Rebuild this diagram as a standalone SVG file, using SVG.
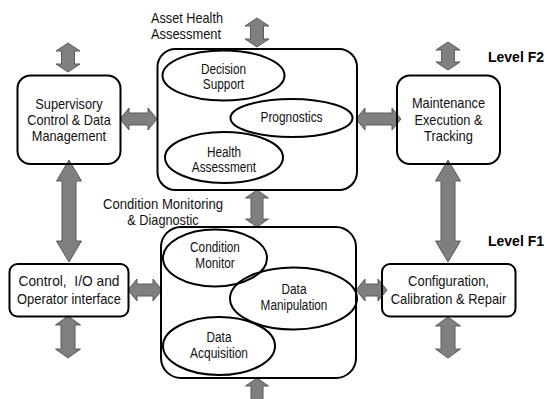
<svg xmlns="http://www.w3.org/2000/svg" width="547" height="399" viewBox="0 0 547 399">
<style>
.bg{fill:#ffffff}
.box{fill:none;stroke:#000;stroke-width:2}
.ell{fill:none;stroke:#000;stroke-width:2}
.arr{fill:#7f7f7f;stroke:#5a5a5a;stroke-width:1;stroke-linejoin:miter}
text{font-family:"Liberation Sans",Arial,sans-serif;fill:#111;text-anchor:middle}
.t15{font-size:15px}
.t14{font-size:14px}
.lbl{font-size:15px;text-anchor:start}
.lvl{font-size:14px;font-weight:bold;text-anchor:start;fill:#000}
</style>
<rect class="bg" x="0" y="0" width="547" height="399"/>
<g id="connectors">
<path class="arr" d="M68 43 L80 51 L74.5 51 L74.5 64 L80 64 L68 72 L56 64 L61.5 64 L61.5 51 L56 51 Z"/>
<path class="arr" d="M257 18 L269 26 L263.5 26 L263.5 39 L269 39 L257 47 L245 39 L250.5 39 L250.5 26 L245 26 Z"/>
<path class="arr" d="M448 42 L460 50 L454.5 50 L454.5 62 L460 62 L448 70 L436 62 L441.5 62 L441.5 50 L436 50 Z"/>
<path class="arr" d="M120 119 L129 108 L129 113 L148 113 L148 108 L157 119 L148 130 L148 125 L129 125 L129 130 Z"/>
<path class="arr" d="M356 119 L365 108 L365 113 L392 113 L392 108 L401 119 L392 130 L392 125 L365 125 L365 130 Z"/>
<path class="arr" d="M69 160 L81.5 181 L76 181 L76 241 L81.5 241 L69 262 L56.5 241 L62 241 L62 181 L56.5 181 Z"/>
<path class="arr" d="M448 160 L460.5 181 L455 181 L455 241 L460.5 241 L448 262 L435.5 241 L441 241 L441 181 L435.5 181 Z"/>
<path class="arr" d="M257 190 L268.5 198 L263 198 L263 219 L268.5 219 L257 227 L245.5 219 L251 219 L251 198 L245.5 198 Z"/>
<path class="arr" d="M128 290 L137 279 L137 284 L153 284 L153 279 L162 290 L153 301 L153 296 L137 296 L137 301 Z"/>
<path class="arr" d="M356 290 L365 279 L365 284 L378 284 L378 279 L387 290 L378 301 L378 296 L365 296 L365 301 Z"/>
<path class="arr" d="M68 316 L80.5 325 L75 325 L75 349 L80.5 349 L68 358 L55.5 349 L61 349 L61 325 L55.5 325 Z"/>
<path class="arr" d="M448 317 L460.5 326 L455 326 L455 349 L460.5 349 L448 358 L435.5 349 L441 349 L441 326 L435.5 326 Z"/>
<path class="arr" d="M257 378 L268.5 386 L263 386 L263 404 L268.5 404 L257 412 L245.5 404 L251 404 L251 386 L245.5 386 Z"/>
</g>
<g id="supervisory">
<rect class="box" x="17.5" y="75.5" width="103" height="88.5" rx="13"/>
<text class="t15" x="69" y="108.5" textLength="67.5" lengthAdjust="spacingAndGlyphs">Supervisory</text>
<text class="t15" x="69" y="124.5" textLength="83.5" lengthAdjust="spacingAndGlyphs">Control &amp; Data</text>
<text class="t15" x="69" y="140.5" textLength="74.3" lengthAdjust="spacingAndGlyphs">Management</text>
</g>
<g id="asset-health">
<rect class="box" x="157.5" y="49" width="199.5" height="141" rx="18"/>
<text class="lbl" x="151" y="23.4" textLength="72" lengthAdjust="spacingAndGlyphs">Asset Health</text>
<text class="lbl" x="151" y="39.4" textLength="70" lengthAdjust="spacingAndGlyphs">Assessment</text>
<g id="decision-support">
<ellipse class="ell" cx="223.5" cy="75.5" rx="61" ry="25"/>
<text class="t14" x="223.5" y="74" textLength="45.2" lengthAdjust="spacingAndGlyphs">Decision</text>
<text class="t14" x="223.5" y="89" textLength="41.3" lengthAdjust="spacingAndGlyphs">Support</text>
</g>
<g id="prognostics">
<ellipse class="ell" cx="291.5" cy="118" rx="61" ry="19"/>
<text class="t14" x="291.5" y="121.5" textLength="62" lengthAdjust="spacingAndGlyphs">Prognostics</text>
</g>
<g id="health-assessment">
<ellipse class="ell" cx="224" cy="157.5" rx="59" ry="25.5"/>
<text class="t14" x="224" y="156.7" textLength="34.1" lengthAdjust="spacingAndGlyphs">Health</text>
<text class="t14" x="224" y="171.7" textLength="64.3" lengthAdjust="spacingAndGlyphs">Assessment</text>
</g>
</g>
<g id="maintenance">
<rect class="box" x="397" y="75.5" width="103" height="88.5" rx="13"/>
<text class="t15" x="448.5" y="107.5" textLength="73.2" lengthAdjust="spacingAndGlyphs">Maintenance</text>
<text class="t15" x="448.5" y="124.5" textLength="68" lengthAdjust="spacingAndGlyphs">Execution &amp;</text>
<text class="t15" x="448.5" y="141" textLength="48.9" lengthAdjust="spacingAndGlyphs">Tracking</text>
</g>
<g id="control-io">
<rect class="box" x="9.5" y="264" width="119" height="52.5" rx="8"/>
<text class="t15" x="69" y="286" textLength="101" lengthAdjust="spacingAndGlyphs">Control,&#160; I/O and</text>
<text class="t15" x="69" y="303.5" textLength="104" lengthAdjust="spacingAndGlyphs">Operator interface</text>
</g>
<g id="condition-monitoring">
<rect class="box" x="161" y="227" width="195" height="151" rx="20"/>
<text class="t15" x="163" y="208.7" textLength="120" lengthAdjust="spacingAndGlyphs">Condition Monitoring</text>
<text class="t15" x="163" y="225.4" textLength="71.4" lengthAdjust="spacingAndGlyphs">&amp; Diagnostic</text>
<g id="condition-monitor">
<ellipse class="ell" cx="215" cy="258" rx="52" ry="28.5"/>
<text class="t14" x="215" y="252.3" textLength="49.8" lengthAdjust="spacingAndGlyphs">Condition</text>
<text class="t14" x="215" y="268.3" textLength="39.3" lengthAdjust="spacingAndGlyphs">Monitor</text>
</g>
<g id="data-manipulation">
<ellipse class="ell" cx="293.5" cy="298.5" rx="63.5" ry="31"/>
<text class="t14" x="294" y="294" textLength="24.9" lengthAdjust="spacingAndGlyphs">Data</text>
<text class="t14" x="294" y="309.7" textLength="66.8" lengthAdjust="spacingAndGlyphs">Manipulation</text>
</g>
<g id="data-acquisition">
<ellipse class="ell" cx="219" cy="346" rx="56" ry="29"/>
<text class="t14" x="219" y="342" textLength="24.9" lengthAdjust="spacingAndGlyphs">Data</text>
<text class="t14" x="219" y="357.7" textLength="58" lengthAdjust="spacingAndGlyphs">Acquisition</text>
</g>
</g>
<g id="configuration">
<rect class="box" x="382" y="264" width="133.5" height="52.5" rx="8"/>
<text class="t15" x="448.5" y="286" textLength="81" lengthAdjust="spacingAndGlyphs">Configuration,</text>
<text class="t15" x="448.5" y="303.5" textLength="115.5" lengthAdjust="spacingAndGlyphs">Calibration &amp; Repair</text>
</g>
<g id="levels">
<text class="lvl" x="488" y="62">Level F2</text>
<text class="lvl" x="488" y="245.5">Level F1</text>
</g>
</svg>
